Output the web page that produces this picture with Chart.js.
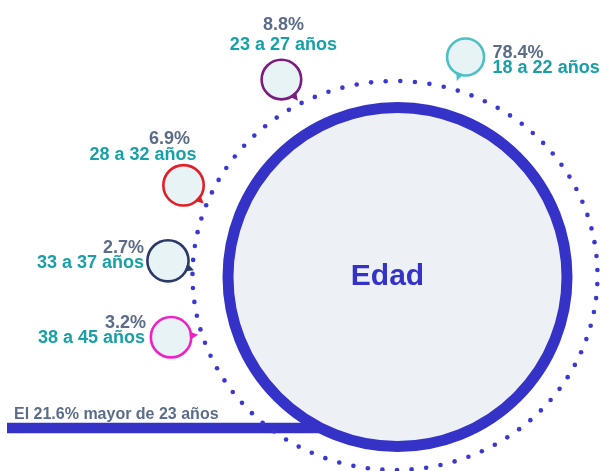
<!DOCTYPE html>
<html>
<head>
<meta charset="utf-8">
<script src="https://cdn.jsdelivr.net/npm/chart.js@4"></script>
<style>
  html, body { margin: 0; padding: 0; background: #ffffff; }
  #wrap { width: 606px; height: 471px; position: relative; }
</style>
</head>
<body>
<div id="wrap"><canvas id="c"></canvas></div>
<script>
// ---- data ----
const ageGroups = ['18 a 22 años', '23 a 27 años', '28 a 32 años', '33 a 37 años', '38 a 45 años'];
const shares = [78.4, 8.8, 6.9, 2.7, 3.2];
const centerLabel = 'Edad';
const olderShare = 21.6;
const footnote = 'El ' + olderShare.toFixed(1) + '% mayor de 23 años';

// ---- layout (canvas units) ----
const ring = { cx: 395, cy: 275.5, rx: 202.5, ry: 194.5, dots: 87, phase: -1.6 };
const hub = { cx: 397.5, cy: 277, r: 169.5, bw: 11 };
const orbitAngles = [-72.1, -120.1, -156.9, -176.3, 164.6];
const orbitDist = [229.6, 226.5, 229.9, 227.5, 232.3];
const bubbleR = [18.5, 19.8, 20.2, 20.6, 20.2];
const tailAngles = [110, 52, 42, 20, -5];
const pctOffset = [[27, 1, 'left'], [2, -50, 'center'], [6.5, -41.5, 'right'], [-24, -8.3, 'right'], [-25, -9.3, 'right']];
const labOffset = [[27, 16, 'left'], [2, -29.5, 'center'], [13, -25.5, 'right'], [-24, 6.7, 'right'], [-26, 6.3, 'right']];
const footnotePos = { x: 14, y: 418.5 };
const barSpan = { x0: 7, x1: 330, y: 428, w: 10.5 };

// ---- styles ----
const groupColors = ['#4cc0c4', '#7a1c80', '#e31e26', '#2b3a68', '#ef22c6'];
const bubbleFill = '#e8f3f6';
const hubFill = '#edf1f6';
const hubColor = '#3532c8';
const dotColor = '#3b37d2';
const pctColor = '#5b6c88';
const labColor = '#17a1a7';
const FONT = '"Liberation Sans", Arial, sans-serif';

const rad = d => d * Math.PI / 180;
const groupPoints = ageGroups.map((g, i) => ({
  x: ring.cx + orbitDist[i] * Math.cos(rad(orbitAngles[i])),
  y: ring.cy + orbitDist[i] * Math.sin(rad(orbitAngles[i])),
  r: bubbleR[i]
}));

const decor = {
  id: 'decor',
  beforeDatasetsDraw(chart) {
    const { ctx, scales: { x, y } } = chart;
    ctx.save();
    // footnote bar
    ctx.fillStyle = hubColor;
    ctx.fillRect(x.getPixelForValue(barSpan.x0), y.getPixelForValue(barSpan.y) - barSpan.w / 2,
      x.getPixelForValue(barSpan.x1) - x.getPixelForValue(barSpan.x0), barSpan.w);
    // dotted ring
    ctx.fillStyle = dotColor;
    for (let k = 0; k < ring.dots; k++) {
      const a = rad(ring.phase + k * 360 / ring.dots);
      const px = x.getPixelForValue(ring.cx + ring.rx * Math.cos(a));
      const py = y.getPixelForValue(ring.cy + ring.ry * Math.sin(a));
      ctx.beginPath();
      ctx.arc(px, py, 2.3, 0, Math.PI * 2);
      ctx.fill();
    }
    ctx.restore();
  },
  afterDatasetsDraw(chart) {
    const { ctx, scales: { x, y } } = chart;
    ctx.save();
    // tails
    groupPoints.forEach((p, i) => {
      const cx = x.getPixelForValue(p.x), cy = y.getPixelForValue(p.y);
      const a = rad(tailAngles[i]);
      const r = p.r;
      const tip = [cx + (r + 7) * Math.cos(a), cy + (r + 7) * Math.sin(a)];
      const b1 = [cx + (r - 1) * Math.cos(a - 0.22), cy + (r - 1) * Math.sin(a - 0.22)];
      const b2 = [cx + (r - 1) * Math.cos(a + 0.22), cy + (r - 1) * Math.sin(a + 0.22)];
      ctx.fillStyle = groupColors[i];
      ctx.beginPath();
      ctx.moveTo(b1[0], b1[1]);
      ctx.lineTo(tip[0], tip[1]);
      ctx.lineTo(b2[0], b2[1]);
      ctx.closePath();
      ctx.fill();
    });
    // labels
    ctx.textBaseline = 'alphabetic';
    ctx.font = 'bold 18px ' + FONT;
    groupPoints.forEach((p, i) => {
      const cx = x.getPixelForValue(p.x), cy = y.getPixelForValue(p.y);
      ctx.fillStyle = pctColor;
      ctx.textAlign = pctOffset[i][2];
      ctx.fillText(shares[i].toFixed(1) + '%', cx + pctOffset[i][0], cy + pctOffset[i][1]);
      ctx.fillStyle = labColor;
      ctx.textAlign = labOffset[i][2];
      ctx.fillText(ageGroups[i], cx + labOffset[i][0], cy + labOffset[i][1]);
    });
    // center label
    ctx.font = 'bold 30px ' + FONT;
    ctx.fillStyle = hubColor;
    ctx.textAlign = 'center';
    ctx.textBaseline = 'middle';
    ctx.fillText(centerLabel, x.getPixelForValue(hub.cx - 10), y.getPixelForValue(hub.cy));
    // footnote
    ctx.font = 'bold 16px ' + FONT;
    ctx.fillStyle = pctColor;
    ctx.textAlign = 'left';
    ctx.textBaseline = 'alphabetic';
    ctx.fillText(footnote, x.getPixelForValue(footnotePos.x), y.getPixelForValue(footnotePos.y));
    ctx.restore();
  }
};

new Chart(document.getElementById('c'), {
  type: 'bubble',
  data: {
    datasets: [
      {
        label: centerLabel,
        data: [{ x: hub.cx, y: hub.cy, r: hub.r }],
        backgroundColor: hubFill,
        borderColor: hubColor,
        borderWidth: hub.bw,
        clip: false
      },
      {
        label: 'Grupos',
        data: groupPoints,
        backgroundColor: bubbleFill,
        borderColor: groupColors,
        borderWidth: 2.6,
        clip: false
      }
    ]
  },
  options: {
    responsive: true,
    maintainAspectRatio: false,
    animation: false,
    events: [],
    layout: { padding: 0, autoPadding: false },
    plugins: { legend: { display: false }, tooltip: { enabled: false } },
    scales: {
      x: { type: 'linear', min: 0, max: 606, display: false },
      y: { type: 'linear', min: 0, max: 471, reverse: true, display: false }
    }
  },
  plugins: [decor]
});
</script>
</body>
</html>
